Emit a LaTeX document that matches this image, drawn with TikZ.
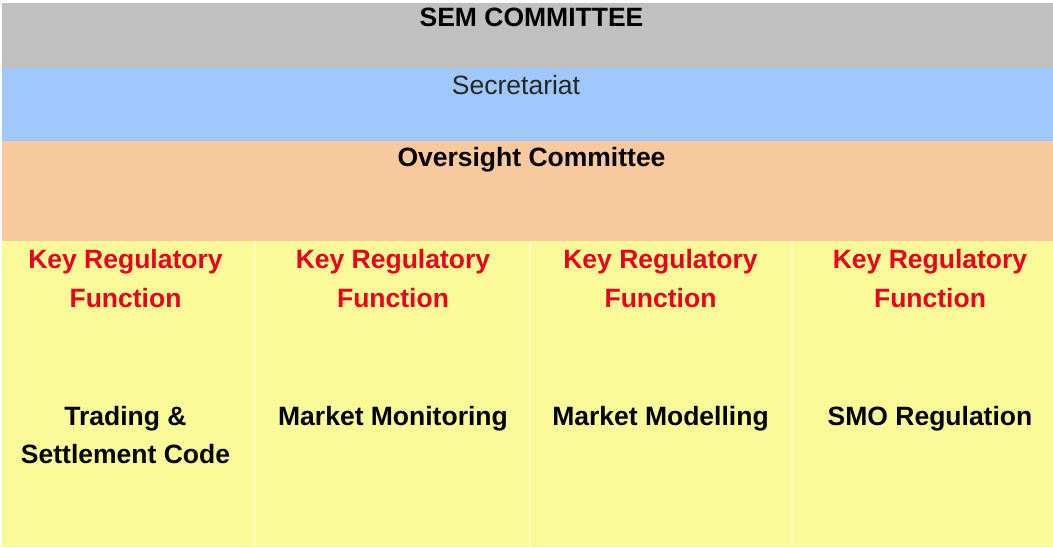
\documentclass[tikz,border=0pt]{standalone}
\usepackage{fontspec}
\setmainfont{Liberation Sans}
\usepackage{xcolor}
\usetikzlibrary{positioning}

\definecolor{semgray}{HTML}{C0C0C0}
\definecolor{secblue}{HTML}{A0C8FC}
\definecolor{overorange}{HTML}{F8C99C}
\definecolor{krfyellow}{HTML}{FAFA98}
\definecolor{krfline}{HTML}{FDFDBC}
\definecolor{krfred}{HTML}{E8001E}

\tikzset{
	band/.style = {rectangle, inner sep=0pt, minimum width=1051pt, anchor=north west},
	bandtext/.style = {inner sep=0pt, anchor=base, align=center,
		font=\fontsize{26.5}{38.5}\selectfont},
	heading/.style = {bandtext, font=\bfseries\fontsize{26.5}{38.5}\selectfont},
	krf/.style = {heading, text=krfred}
}

\begin{document}
\begin{tikzpicture}[x=1pt, y=-1pt]
	\useasboundingbox (0,0) rectangle (1053,548);
	% the four coloured bands
	\node[band, fill=semgray, minimum height=65pt] (sem) at (2,3) {};
	\node[band, fill=secblue, minimum height=73pt] (sec) at (2,68) {};
	\node[band, fill=overorange, minimum height=100pt] (over) at (2,141) {};
	\node[band, fill=krfyellow, minimum height=306pt] (krf) at (2,241) {};
	\foreach \x in {255,530,792}
		\draw[krfline, line width=2pt] (\x,241) -- (\x,547);

	\node[heading] (semtitle) at (531.5,27) {SEM COMMITTEE};
	\node[bandtext, text=black!85] (sectitle) at (516,95) {Secretariat};
	\node[heading] (overtitle) at (531.5,167) {Oversight Committee};

	% one column per function (base sits on the last line)
	\node[krf] (krfa) at (125.5,307.5) {Key Regulatory\\Function};
	\node[krf] (krfb) at (393,307.5) {Key Regulatory\\Function};
	\node[krf] (krfc) at (660.5,307.5) {Key Regulatory\\Function};
	\node[krf] (krfd) at (930,307.5) {Key Regulatory\\Function};

	\node[heading] (tsc) at (125.5,463.5) {Trading \&\\Settlement Code};
	\node[heading] (mmon) at (393,425) {Market Monitoring};
	\node[heading] (mmod) at (660.5,425) {Market Modelling};
	\node[heading] (smo) at (930,425) {SMO Regulation};
\end{tikzpicture}
\end{document}
